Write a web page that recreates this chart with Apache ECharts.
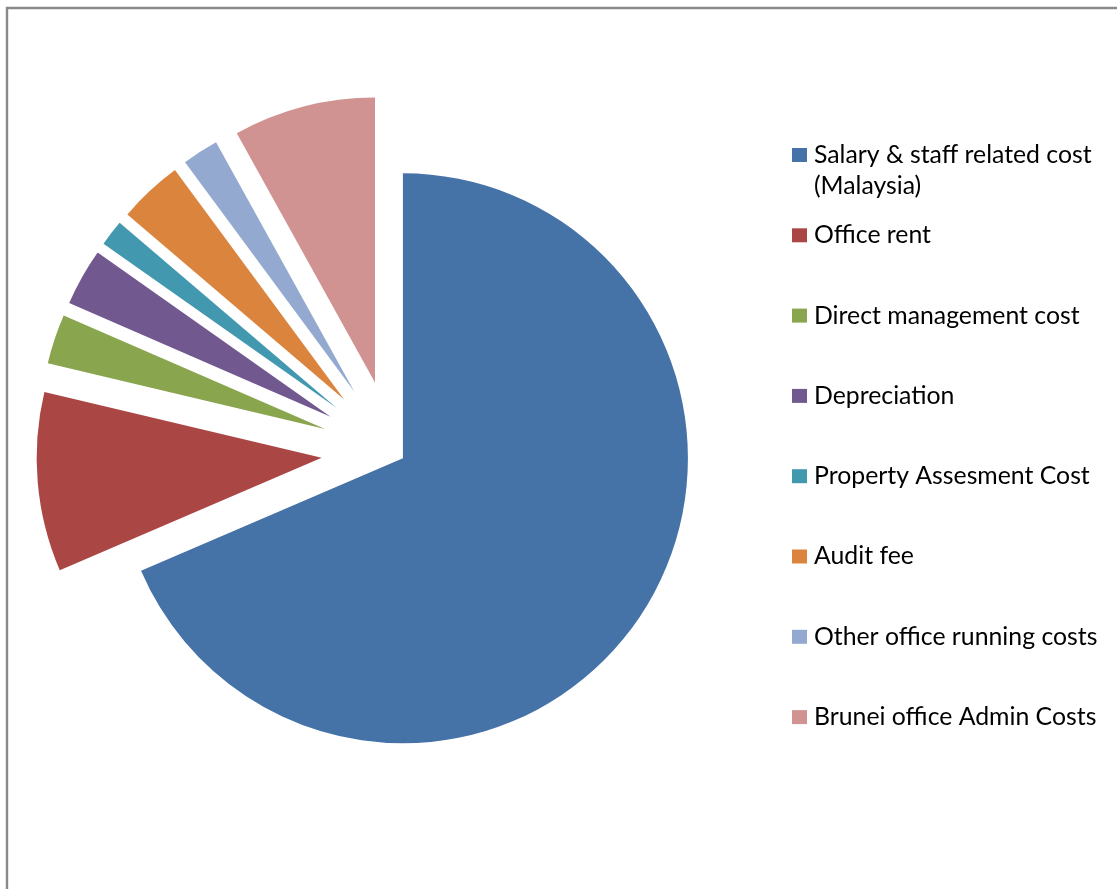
<!DOCTYPE html>
<html>
<head>
<meta charset="utf-8">
<script src="https://cdn.jsdelivr.net/npm/echarts@6/dist/echarts.min.js"></script>
<style>
html,body{margin:0;padding:0;background:#fff;}
#chart{width:1117px;height:889px;}
</style>
</head>
<body>
<div id="chart"></div>
<script>
// ---- data ----
var categories = [
  'Salary & staff related cost (Malaysia)',
  'Office rent',
  'Direct management cost',
  'Depreciation',
  'Property Assesment Cost',
  'Audit fee',
  'Other office running costs',
  'Brunei office Admin Costs'
];
var shares = [68.56, 10.17, 2.81, 3.25, 1.47, 3.64, 2.06, 8.06];
var colors = ['#4572A7', '#AA4643', '#89A54E', '#71588F', '#4198AF', '#DB843D', '#93A9CF', '#D19392'];

// ---- layout ----
var CENTER = [392.9, 451.7];
var RADIUS = 285;
var FONT = 'Lato';

function buildData(showMain) {
  return categories.map(function (name, i) {
    var isMain = (i === 0);
    var visible = (isMain === showMain);
    return {
      name: name,
      value: shares[i],
      selected: true,
      itemStyle: { color: colors[i], opacity: visible ? 1 : 0, borderWidth: 0 }
    };
  });
}

function pieSeries(showMain, offset) {
  return {
    type: 'pie',
    center: CENTER,
    radius: RADIUS,
    startAngle: 90,
    clockwise: true,
    selectedMode: 'multiple',
    selectedOffset: offset,
    avoidLabelOverlap: false,
    label: { show: false },
    labelLine: { show: false },
    itemStyle: { borderWidth: 0 },
    emphasis: { disabled: true, scale: false },
    select: { itemStyle: { borderWidth: 0 } },
    animation: false,
    data: buildData(showMain)
  };
}

var legends = categories.map(function (name, i) {
  var iconCenter = 155 + i * 80.3;
  var multi = name.indexOf(' (') > 0;
  return {
    orient: 'vertical',
    left: 792,
    top: iconCenter - (multi ? 46.5 : 15.5),
    padding: 0,
    itemWidth: 15,
    itemHeight: 14,
    selectedMode: false,
    data: [{ name: name, icon: 'rect', itemStyle: { color: colors[i], opacity: 1, borderWidth: 0 } }],
    formatter: function (n) {
      return n.indexOf(' (') > 0 ? '\n' + n.replace(' (', '\n(') : n;
    },
    textStyle: {
      fontFamily: FONT,
      fontSize: 24.8,
      lineHeight: 31,
      color: '#000',
      padding: [0, 0, 0, 2]
    }
  };
});

var chart = echarts.init(document.getElementById('chart'), null, { renderer: 'canvas' });
chart.setOption({
  backgroundColor: '#fff',
  animation: false,
  graphic: [{
    type: 'rect',
    silent: true,
    shape: { x: 7, y: 8, width: 1400, height: 1200 },
    style: { fill: 'none', stroke: '#8a8a8a', lineWidth: 2.4 }
  }],
  legend: legends,
  series: [pieSeries(true, 12), pieSeries(false, 71.5)]
});
</script>
</body>
</html>
